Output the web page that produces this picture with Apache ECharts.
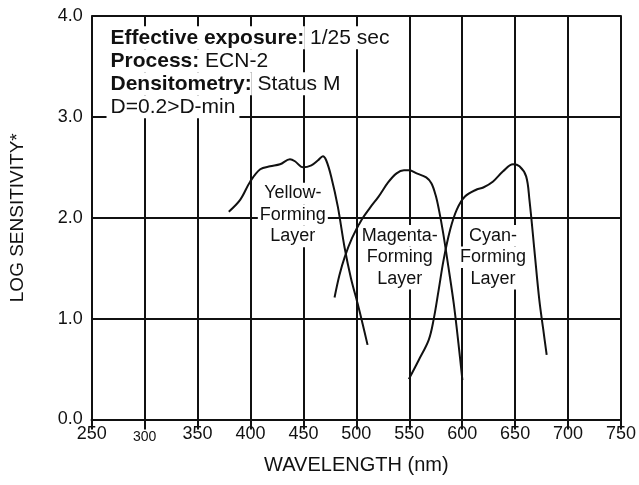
<!DOCTYPE html>
<html><head><meta charset="utf-8">
<script src="https://cdn.jsdelivr.net/npm/echarts@6/dist/echarts.min.js"></script>
<style>html,body{margin:0;padding:0;background:#fff}#c{width:639px;height:485px}</style>
</head><body><div id="c"></div>
<script>
// Spectral sensitivity curves (wavelength nm, log sensitivity)
const yellowLayer = [[379.5,2.06],[390.4,2.18],[399.8,2.36],[409.2,2.48],[418.5,2.51],[427.9,2.53],[437.3,2.58],[442,2.56],[449.7,2.50],[457.5,2.52],[463.8,2.57],[468.4,2.61],[471.5,2.57],[476.2,2.41],[482.5,2.11],[488.8,1.71],[494.9,1.40],[501.2,1.15],[505.9,0.95],[510.6,0.74]];
const magentaLayer = [[479.4,1.21],[484,1.43],[489,1.61],[496,1.80],[505,1.98],[513,2.10],[521,2.21],[530,2.35],[538,2.44],[545,2.47],[550,2.47],[557,2.44],[566,2.40],[571,2.34],[575,2.22],[578,2.08],[582,1.85],[587,1.51],[592,1.15],[596.4,0.76],[600.2,0.39]];
const cyanLayer = [[549.6,0.40],[559,0.59],[568.4,0.79],[573,0.99],[577.7,1.28],[582.4,1.58],[588.6,1.88],[594.9,2.08],[602.6,2.21],[613.6,2.28],[619.9,2.30],[629.2,2.36],[638.6,2.46],[648,2.53],[654.1,2.51],[660.4,2.41],[663.5,2.18],[668.2,1.68],[672.9,1.18],[676.6,0.89],[679.8,0.64]];
// Text
const infoLines = [['Effective exposure:', ' 1/25 sec'], ['Process:', ' ECN-2'], ['Densitometry:', ' Status M'], ['', 'D=0.2>D-min']];
const layerLabels = [['Yellow-', 'Forming', 'Layer'], ['Magenta-', 'Forming', 'Layer'], ['Cyan-', 'Forming', 'Layer']];
const xAxisName = 'WAVELENGTH (nm)';
const yAxisName = 'LOG SENSITIVITY*';

const FONT = "'Liberation Sans', Arial, Helvetica, sans-serif";
const INK = '#111';

const chart = echarts.init(document.getElementById('c'), null, {renderer: 'canvas'});

function curve(name, data) {
  return {name, type: 'line', data, smooth: 0.35, symbol: 'none', silent: true,
    lineStyle: {color: INK, width: 2}, z: 3};
}

const infoText = infoLines.map(([b, r]) => b ? '{b|' + b + '}{r|' + r + '}' : '{d|' + r + '}').join('\n');
const layerText = lines => lines.map(s => '{a|' + s + '}').join('\n');

const baseLabel = {show: true, opacity: 1, color: INK, textBorderWidth: 0, textShadowBlur: 0};
const infoStyle = {fontFamily: FONT, fontSize: 21, color: INK, lineHeight: 23, height: 23, backgroundColor: '#fff'};

const option = {
  backgroundColor: '#fff',
  animation: false,
  grid: {left: 91.7, right: 13.3, top: 16, bottom: 65.5, containLabel: false},
  xAxis: [{
    type: 'value', min: 250, max: 750, interval: 50, position: 'bottom',
    name: xAxisName, nameLocation: 'middle', nameGap: 36,
    nameTextStyle: {fontFamily: FONT, fontSize: 20, color: INK},
    axisLine: {show: true, lineStyle: {color: INK, width: 2}},
    axisTick: {show: false},
    axisLabel: {fontFamily: FONT, fontSize: 18, color: INK, margin: 6,
      formatter: v => v === 300 ? '{s|300}' : String(v),
      rich: {s: {fontFamily: FONT, fontSize: 14, color: INK, padding: [5, 0, 0, 0]}}},
    splitLine: {show: true, lineStyle: {color: INK, width: 2}}
  }, {
    type: 'value', min: 250, max: 750, interval: 50, position: 'top',
    axisLine: {show: true, lineStyle: {color: INK, width: 2}},
    axisTick: {show: true, inside: true, length: 10, lineStyle: {color: INK, width: 2}},
    axisLabel: {show: false}, splitLine: {show: false}
  }],
  yAxis: [{
    type: 'value', min: 0, max: 4, interval: 1, position: 'left',
    name: yAxisName, nameLocation: 'middle', nameGap: 64, nameRotate: 90,
    nameTextStyle: {fontFamily: FONT, fontSize: 19, color: INK},
    axisLine: {show: true, lineStyle: {color: INK, width: 2}},
    axisTick: {show: false},
    axisLabel: {fontFamily: FONT, fontSize: 18, color: INK, margin: 9, formatter: v => v.toFixed(1)},
    splitLine: {show: true, lineStyle: {color: INK, width: 2}}
  }, {
    type: 'value', min: 0, max: 4, interval: 1, position: 'right',
    axisLine: {show: true, lineStyle: {color: INK, width: 2}},
    axisTick: {show: false}, axisLabel: {show: false}, splitLine: {show: false}
  }],
  series: [
    curve('Yellow-Forming Layer', yellowLayer),
    curve('Magenta-Forming Layer', magentaLayer),
    curve('Cyan-Forming Layer', cyanLayer),
    {
      type: 'scatter', silent: true, symbolSize: 0, z: 5,
      itemStyle: {opacity: 1, color: '#fff'},
      data: [
        {value: [264, 3.442], label: Object.assign({}, baseLabel, {position: 'right', distance: 0, formatter: infoText, align: 'left',
          rich: {
            b: Object.assign({}, infoStyle, {fontWeight: 'bold', padding: [0, 0, 0, 4]}),
            r: Object.assign({}, infoStyle, {padding: [0, 4, 0, 0]}),
            d: Object.assign({}, infoStyle, {padding: [0, 4, 0, 4]})
          }})},
        {value: [440, 2.027], label: Object.assign({}, baseLabel, {position: 'inside', formatter: layerText(layerLabels[0])})},
        {value: [541, 1.608], label: Object.assign({}, baseLabel, {position: 'inside', formatter: layerText(layerLabels[1])})},
        {value: [629, 1.608], label: Object.assign({}, baseLabel, {position: 'inside', formatter: layerText(layerLabels[2])})}
      ],
      label: Object.assign({}, baseLabel, {
        rich: {a: {fontFamily: FONT, fontSize: 18, color: INK, lineHeight: 21.5, height: 21.5, backgroundColor: '#fff', padding: [0, 2]}}
      })
    }
  ]
};
chart.setOption(option);
</script></body></html>
